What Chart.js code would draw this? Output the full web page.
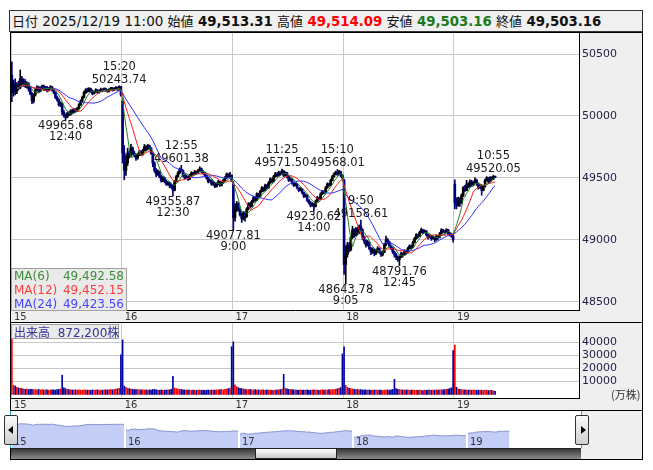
<!DOCTYPE html>
<html>
<head>
<meta charset="utf-8">
<script src="https://cdn.jsdelivr.net/npm/chart.js@4.4.1/dist/chart.umd.min.js"></script>
<style>
  body { margin: 0; background: #fff; }
  #wrap { position: relative; width: 653px; height: 470px; font-family: "DejaVu Sans", "Noto Sans CJK JP", sans-serif; }
  .abs { position: absolute; box-sizing: border-box; }
  #head { left: 9px; top: 10px; width: 634px; height: 22px; border: 1px solid #333; background: #f0f0f0;
          font-size: 13.5px; line-height: 20px; padding-left: 2px; white-space: nowrap; color: #111; }
  #head .j { font-family: "Noto Sans CJK JP"; font-size: 13px; }
  #head b { font-size: 13.3px; }
  #mainBox { left: 10px; top: 32px; width: 633px; height: 291px; border: 1px solid #000; }
  #volBox { left: 10px; top: 322px; width: 633px; height: 89px; border: 1px solid #000; }
  #navBox { left: 10px; top: 410px; width: 633px; height: 50px; border: 1px solid #000; background: #efefef; }
  canvas { position: absolute; left: 0; top: 0; }
  #maLegend { left: 11px; top: 268px; width: 116px; height: 43px; background: rgba(232,232,232,0.92);
              border: 1px solid #a0a0a0; font-size: 12px; line-height: 14px; padding: 0 2px; }
  #maLegend div { display: flex; justify-content: space-between; }
  #volLabel { left: 11px; top: 324px; width: 108px; height: 15px; background: rgba(232,232,232,0.92);
              border: 1px solid #a0a0a0; font-size: 12px; line-height: 13px; padding: 0 2px; color: #34349a; white-space: nowrap; }
  #volLabel .j { font-family: "Noto Sans CJK JP"; }
  #unit { left: 611px; top: 386px; font-size: 11px; color: #333; font-family: "Noto Sans CJK JP"; }
  .btn { width: 14px; height: 30px; top: 415px; border: 1px solid #333; border-radius: 2px;
         background: linear-gradient(#fafafa, #cfcfcf); }
  #btnL { left: 4px; } #btnR { left: 575px; }
  .tri { position: absolute; top: 10px; width: 0; height: 0; border-top: 4px solid transparent; border-bottom: 4px solid transparent; }
  #btnL .tri { left: 3px; border-right: 5px solid #000; }
  #btnR .tri { left: 5px; border-left: 5px solid #000; }
  #track { left: 11px; top: 448px; width: 570px; height: 11px; border-top: 1px solid #222;
           background: linear-gradient(#3a3a3a, #8c8c8c); }
  #thumb { left: 255px; top: 448px; width: 82px; height: 11px; border: 1px solid #222;
           background: linear-gradient(#ffffff, #c9c9c9); }
  .cyan { width: 1px; height: 37px; top: 411px; background: #19b5d8; }
</style>
</head>
<body>
<div id="wrap">
  <div id="head" class="abs"></div>
  <div id="mainBox" class="abs"><canvas id="main" width="631" height="289"></canvas></div>
  <div id="volBox" class="abs"><canvas id="vol" width="631" height="87"></canvas></div>
  <div id="navBox" class="abs"></div>
  <canvas id="nav" width="570" height="37" style="left:11px;top:411px"></canvas>
  <div class="abs cyan" style="left:10px"></div>
  <div class="abs cyan" style="left:581px"></div>
  <div id="track" class="abs"></div>
  <div id="thumb" class="abs"></div>
  <div id="btnL" class="abs btn"><div class="tri"></div></div>
  <div id="btnR" class="abs btn"><div class="tri"></div></div>
  <div id="maLegend" class="abs"></div>
  <div id="volLabel" class="abs"></div>
  <div id="unit" class="abs">(万株)</div>
</div>
<script>
// ---- data (5分足) ----
const days = ['15', '16', '17', '18', '19'];
const headDate = '2025/12/19 11:00';
const headNames = ['始値', '高値', '安値', '終値'];
const headValues = ['49,513.31', '49,514.09', '49,503.16', '49,503.16'];
const headColors = ['#111', '#ff0000', '#1a7a1a', '#111'];
const priceTicks = [48500, 49000, 49500, 50000, 50500];
const volTicks = [10000, 20000, 30000, 40000];

// [open, high, low, close]
const d15 = [
  [50330,50438,50115,50190],[50190,50290,50160,50260],[50260,50300,50170,50200],[50200,50270,50180,50250],[50250,50280,50210,50230],
  [50230,50371,50220,50300],[50300,50320,50240,50260],[50260,50300,50240,50280],[50280,50295,50230,50240],[50240,50275,50225,50260],
  [50260,50270,50200,50220],[50220,50235,50170,50180],[50180,50190,50100,50120],[50120,50180,50105,50170],[50170,50220,50160,50210],
  [50210,50245,50200,50230],[50230,50240,50190,50200],[50200,50235,50195,50225],[50225,50250,50215,50240],[50240,50250,50205,50215],
  [50215,50240,50205,50230],[50230,50240,50195,50205],[50205,50230,50200,50220],[50220,50245,50215,50235],[50235,50240,50200,50210],
  [50210,50220,50180,50190],[50190,50195,50140,50150],[50150,50160,50120,50130],[50130,50140,50080,50090],[50090,50115,50075,50100],
  [50100,50110,50010,50030],[50030,50045,49990,50000],[50000,50015,49966,49990],[49990,50030,49985,50020],[50020,50035,50000,50010],
  [50010,50050,50005,50040],[50040,50055,50020,50030],[50030,50060,50025,50050],[50050,50060,50030,50040],[50040,50070,50035,50060],
  [50060,50100,50055,50090],[50090,50130,50085,50120],[50120,50160,50110,50150],[50150,50200,50145,50190],[50190,50220,50180,50210],
  [50210,50225,50190,50200],[50200,50230,50195,50220],[50220,50225,50190,50200],[50200,50210,50170,50180],[50180,50200,50175,50195],
  [50195,50220,50190,50210],[50210,50215,50185,50190],[50190,50210,50185,50200],[50200,50225,50195,50215],[50215,50220,50195,50205],
  [50205,50228,50200,50220],[50220,50225,50200,50210],[50210,50215,50190,50200],[50200,50222,50195,50215],[50215,50232,50210,50225],
  [50225,50230,50200,50210],[50210,50228,50205,50220],[50220,50238,50215,50230],[50230,50235,50205,50215],[50215,50244,50210,50235],
  [50235,50240,50160,50170]
];
const d16 = [
  [50120,50130,49620,49700],[49700,49760,49484,49560],[49560,49680,49520,49620],[49620,49740,49600,49700],[49700,49720,49660,49680],
  [49680,49770,49670,49740],[49740,49750,49690,49700],[49700,49715,49670,49680],[49680,49690,49640,49660],[49660,49700,49650,49690],
  [49690,49720,49680,49710],[49710,49720,49680,49690],[49690,49730,49685,49720],[49720,49770,49715,49750],[49750,49760,49720,49730],
  [49730,49770,49725,49760],[49760,49765,49730,49740],[49740,49745,49690,49700],[49700,49705,49590,49620],[49620,49630,49545,49560],
  [49560,49575,49510,49530],[49530,49565,49520,49550],[49550,49555,49500,49510],[49510,49520,49465,49480],[49480,49510,49470,49500],
  [49500,49505,49460,49470],[49470,49480,49440,49450],[49450,49470,49440,49460],[49460,49465,49420,49440],[49440,49450,49415,49430],
  [49430,49440,49356,49400],[49400,49480,49395,49470],[49470,49520,49465,49510],[49510,49550,49505,49540],[49540,49580,49535,49570],
  [49570,49601,49550,49560],[49560,49565,49510,49520],[49520,49530,49490,49500],[49500,49520,49495,49510],[49510,49515,49480,49490],
  [49490,49530,49485,49520],[49520,49550,49515,49540],[49540,49545,49520,49530],[49530,49560,49525,49550],[49550,49555,49530,49540],
  [49540,49570,49535,49560],[49560,49590,49555,49575],[49575,49580,49540,49550],[49550,49560,49530,49540],[49540,49545,49510,49520],
  [49520,49525,49490,49500],[49500,49505,49460,49470],[49470,49490,49465,49480],[49480,49485,49440,49450],[49450,49470,49440,49460],
  [49460,49465,49420,49430],[49430,49460,49425,49450],[49450,49480,49445,49470],[49470,49475,49430,49440],[49440,49470,49435,49460],
  [49460,49490,49455,49480],[49480,49510,49475,49500],[49500,49540,49495,49530],[49530,49535,49500,49510],[49510,49545,49505,49520],
  [49520,49525,49470,49480]
];
const d17 = [
  [49450,49470,49078,49180],[49180,49290,49150,49250],[49250,49310,49230,49290],[49290,49300,49230,49240],[49240,49250,49190,49200],
  [49200,49215,49140,49170],[49170,49230,49160,49220],[49220,49225,49150,49190],[49190,49260,49180,49250],[49250,49300,49240,49290],
  [49290,49300,49260,49270],[49270,49320,49265,49310],[49310,49350,49300,49340],[49340,49345,49310,49320],[49320,49380,49315,49370],
  [49370,49375,49340,49350],[49350,49400,49345,49390],[49390,49430,49385,49420],[49420,49425,49390,49400],[49400,49450,49395,49440],
  [49440,49445,49410,49420],[49420,49470,49415,49460],[49460,49500,49455,49490],[49490,49495,49460,49470],[49470,49520,49465,49510],
  [49510,49545,49505,49530],[49530,49540,49510,49520],[49520,49555,49515,49545],[49545,49550,49520,49530],[49530,49572,49525,49555],
  [49555,49560,49510,49520],[49520,49550,49515,49540],[49540,49545,49500,49510],[49510,49515,49470,49480],[49480,49500,49475,49490],
  [49490,49495,49450,49460],[49460,49465,49430,49440],[49440,49460,49435,49450],[49450,49455,49410,49420],[49420,49425,49390,49400],
  [49400,49420,49395,49410],[49410,49415,49370,49380],[49380,49385,49340,49350],[49350,49370,49345,49360],[49360,49365,49310,49320],
  [49320,49325,49290,49300],[49300,49310,49265,49280],[49280,49300,49270,49290],[49290,49295,49231,49270],[49270,49320,49265,49310],
  [49310,49350,49305,49340],[49340,49345,49320,49330],[49330,49380,49325,49370],[49370,49400,49365,49390],[49390,49395,49370,49380],
  [49380,49430,49375,49420],[49420,49460,49415,49450],[49450,49455,49430,49440],[49440,49490,49435,49480],[49480,49520,49475,49510],
  [49510,49540,49505,49530],[49530,49555,49525,49545],[49545,49568,49520,49530],[49530,49560,49525,49550],[49550,49555,49510,49520],
  [49520,49530,49490,49500]
];
const d18 = [
  [49480,49490,48720,48800],[48800,48950,48644,48880],[48880,48980,48860,48960],[48960,48975,48900,48920],[48920,49030,48910,49020],
  [49020,49110,49010,49080],[49080,49090,49020,49040],[49040,49100,49030,49090],[49090,49100,49040,49060],[49060,49120,49050,49110],
  [49110,49159,49070,49080],[49080,49090,49000,49020],[49020,49030,48970,48990],[48990,49000,48940,48960],[48960,48995,48950,48980],
  [48980,48985,48920,48930],[48930,48940,48880,48900],[48900,48935,48890,48920],[48920,48925,48870,48890],[48890,48920,48880,48910],
  [48910,48945,48900,48930],[48930,48935,48890,48900],[48900,48910,48865,48880],[48880,48910,48870,48900],[48900,48970,48895,48960],
  [48960,49030,48950,49000],[49000,49010,48970,48980],[48980,48990,48940,48950],[48950,48960,48920,48930],[48930,48940,48890,48900],
  [48900,48910,48860,48880],[48880,48890,48840,48860],[48860,48870,48825,48840],[48840,48870,48792,48860],[48860,48900,48855,48890],
  [48890,48895,48860,48880],[48880,48920,48875,48910],[48910,48915,48885,48900],[48900,48940,48895,48930],[48930,48960,48925,48950],
  [48950,48955,48925,48940],[48940,48990,48935,48980],[48980,49020,48975,49010],[49010,49050,49005,49040],[49040,49045,49015,49030],
  [49030,49070,49025,49060],[49060,49095,49055,49080],[49080,49085,49050,49060],[49060,49080,49055,49070],[49070,49075,49030,49040],
  [49040,49045,49005,49020],[49020,49040,49015,49030],[49030,49035,48995,49010],[49010,49030,49005,49020],[49020,49025,48985,49000],
  [49000,49040,48995,49030],[49030,49035,49005,49020],[49020,49060,49015,49050],[49050,49090,49045,49080],[49080,49085,49060,49070],
  [49070,49075,49045,49060],[49060,49090,49055,49080],[49080,49085,49040,49050],[49050,49060,49030,49040],[49040,49050,49020,49030],
  [49030,49040,48980,49000]
];
const d19 = [
  [49450,49484,49250,49300],[49300,49340,49250,49280],[49280,49345,49270,49330],[49330,49340,49270,49300],[49300,49370,49290,49360],
  [49360,49430,49350,49420],[49420,49440,49390,49400],[49400,49480,49395,49450],[49450,49460,49420,49430],[49430,49485,49425,49470],
  [49470,49480,49430,49440],[49440,49470,49435,49460],[49460,49500,49455,49480],[49480,49490,49440,49450],[49450,49460,49410,49420],
  [49420,49450,49415,49440],[49440,49445,49360,49400],[49400,49440,49395,49430],[49430,49490,49425,49480],[49480,49510,49475,49500],
  [49500,49505,49460,49470],[49470,49510,49465,49500],[49500,49510,49480,49490],[49490,49520.05,49485,49513.31],
  [49513.31,49514.09,49503.16,49503.16]
];

// 出来高 (株)
const v15 = [43000,7000,6500,5500,5000,4800,4500,4200,4000,4200,3800,4000,3900,3700,3800,3600,3900,3500,3700,3400,
  3600,3500,3300,3400,3600,3500,3400,3700,3900,4200,14800,5200,4500,4000,3800,3600,3500,3400,3600,3300,
  3500,3400,3200,3600,3500,3300,3400,3200,3500,3300,3400,3600,3200,3400,3300,3500,3600,3400,3700,3800,
  3600,3900,4100,4300,4800,30500];
const v16 = [42000,6500,5500,4800,4500,4200,4000,3800,3700,3900,3600,3500,3700,3400,3500,3300,3600,3400,3800,3900,
  3500,3400,3300,3500,3200,3400,3300,3500,3600,4000,14000,5000,4600,4200,4000,3800,3600,3500,3400,3300,
  3500,3200,3400,3300,3100,3300,3500,3200,3400,3100,3300,3400,3200,3500,3300,3400,3600,3500,3700,3800,
  3600,3900,4200,4500,5000,36800];
const v17 = [40500,7500,6000,5200,4800,4500,4300,4000,3800,3700,3900,3600,3500,3700,3400,3600,3300,3500,3400,3200,
  3500,3300,3400,3200,3300,3500,3400,3600,3800,4200,15500,4800,4300,4000,3800,3700,3500,3600,3400,3300,
  3500,3200,3400,3300,3500,3200,3300,3400,3600,3300,3500,3200,3400,3600,3300,3500,3400,3700,3600,3900,
  3800,4100,4400,4800,5300,31200];
const v18 = [36600,7000,5500,4800,4500,4200,4000,3800,3900,3600,3700,3500,3400,3600,3300,3500,3200,3400,3300,3500,
  3200,3400,3300,3100,3400,3300,3500,3200,3600,3900,11700,4500,4000,3800,3600,3500,3400,3300,3500,3200,
  3400,3300,3100,3300,3200,3400,3300,3100,3400,3200,3300,3500,3200,3400,3300,3600,3400,3500,3700,3600,
  3800,4000,4200,4600,5200,33700];
const v19 = [38000,5600,4200,4000,3800,3600,3500,3400,3300,3500,3200,3400,3300,3100,3400,3200,3300,3100,3400,3200,
  3000,3200,3100,2900,2500];

const volTotal = '872,200株';
const maPeriods = [6, 12, 24];
const maColors = ['#1f7f1f', '#ff1a1a', '#2b2bff'];
const maLegendColors = ['#3c8c3c', '#ff3c3c', '#4646ff'];
const maLegendValues = ['49,492.58', '49,452.15', '49,423.56'];

// 高値・安値の注記
const marks = [
  { day: 0, t: '15:20', p: 50243.74, hi: true },
  { day: 0, t: '12:40', p: 49965.68, hi: false },
  { day: 1, t: '12:55', p: 49601.38, hi: true },
  { day: 1, t: '12:30', p: 49355.87, hi: false },
  { day: 2, t: '9:00', p: 49077.81, hi: false },
  { day: 2, t: '11:25', p: 49571.50, hi: true },
  { day: 2, t: '14:00', p: 49230.62, hi: false },
  { day: 2, t: '15:10', p: 49568.01, hi: true },
  { day: 3, t: '9:05', p: 48643.78, hi: false },
  { day: 3, t: '9:50', p: 49158.61, hi: true },
  { day: 3, t: '12:45', p: 48791.76, hi: false },
  { day: 4, t: '10:55', p: 49520.05, hi: true }
];

// ---- build ----
const PER_DAY = 66;
const bars = [d15, d16, d17, d18, d19].flat();
const vols = [v15, v16, v17, v18, v19].flat();
const closes = bars.map(b => b[3]);
const BLACK = '#000000', NAVY = '#00007a';

function barIndex(day, t) {
  const [h, m] = t.split(':').map(Number);
  const min = h * 60 + m;
  return day * PER_DAY + (min < 750 ? (min - 540) / 5 : 30 + (min - 750) / 5);
}

function movingAvg(n) {
  return closes.map((c, i) => {
    const s = closes.slice(Math.max(0, i - n + 1), i + 1);
    return { x: i, y: i < 3 ? null : s.reduce((a, b) => a + b, 0) / s.length };
  });
}

// header
const head = document.getElementById('head');
let html = '<span class="j">日付</span> ' + headDate;
headNames.forEach((n, k) => {
  html += ' <span class="j">' + n + '</span> <b style="color:' + headColors[k] + '">' + headValues[k] + '</b>';
});
head.innerHTML = html;

document.getElementById('maLegend').innerHTML = maPeriods.map((p, k) =>
  '<div style="color:' + maLegendColors[k] + '"><span>MA(' + p + ')</span><span>' + maLegendValues[k] + '</span></div>').join('');
document.getElementById('volLabel').innerHTML = '<span class="j">出来高</span>&nbsp; ' + volTotal;

const FONT = 'DejaVu Sans';
const dayTicks = s => { s.ticks = days.map((d, k) => ({ value: k * PER_DAY - 0.5 })); };
const noPadY = (w) => s => { s.width = w; s.paddingTop = 0; s.paddingBottom = 0; };

const panelBg = {
  id: 'panelBg',
  beforeDraw(c) {
    const { ctx, chartArea: a, width, height } = c;
    ctx.save();
    ctx.fillStyle = '#efefef';
    ctx.fillRect(0, 0, width, height);
    ctx.fillStyle = '#fff';
    ctx.fillRect(a.left, a.top, a.right - a.left, a.bottom - a.top);
    ctx.restore();
  }
};

const markPlugin = {
  id: 'marks',
  afterDatasetsDraw(c) {
    const { ctx, scales: { x, y } } = c;
    ctx.save();
    ctx.font = '11.5px "' + FONT + '"';
    ctx.fillStyle = '#1a1a1a';
    ctx.textAlign = 'center';
    ctx.textBaseline = 'alphabetic';
    marks.forEach(m => {
      const px = x.getPixelForValue(barIndex(m.day, m.t));
      const py = y.getPixelForValue(m.p);
      if (m.hi) {
        ctx.fillText(m.p.toFixed(2), px, py - 3);
        ctx.fillText(m.t, px, py - 16);
      } else {
        ctx.fillText(m.p.toFixed(2), px, py + 9);
        ctx.fillText(m.t, px, py + 20);
      }
    });
    ctx.restore();
  }
};

const xCommon = () => ({
  type: 'linear', min: -0.5, max: 338, offset: false,
  afterBuildTicks: dayTicks,
  afterFit: s => { s.height = 12; s.paddingLeft = 0; s.paddingRight = 0; },
  grid: { color: '#c8c8c8', drawTicks: false, offset: false },
  border: { display: true, color: '#000' },
  ticks: { callback: (v, i) => days[i], align: 'start', labelOffset: 3, padding: 1,
           color: '#333', font: { family: FONT, size: 10 }, maxRotation: 0, autoSkip: false }
});

// main candle chart
new Chart(document.getElementById('main'), {
  type: 'bar',
  data: {
    datasets: [
      ...maPeriods.map((p, k) => ({
        type: 'line', data: movingAvg(p), borderColor: maColors[k], borderWidth: 1,
        pointRadius: 0, tension: 0, order: 0
      })),
      { data: bars.map((b, i) => ({ x: i, y: [b[2], b[1]] })), barThickness: 1, grouped: false, order: 2,
        backgroundColor: bars.map(b => b[3] >= b[0] ? BLACK : NAVY) },
      { data: bars.map((b, i) => ({ x: i, y: [b[0], b[3]] })), barThickness: 2, grouped: false, order: 1,
        backgroundColor: bars.map(b => b[3] >= b[0] ? BLACK : NAVY) }
    ]
  },
  options: {
    responsive: false, animation: false, events: [],
    layout: { padding: 0 },
    plugins: { legend: { display: false }, tooltip: { enabled: false } },
    scales: {
      x: xCommon(),
      y: {
        position: 'right', min: 48433, max: 50670,
        afterBuildTicks: s => { s.ticks = priceTicks.map(v => ({ value: v })); },
        afterFit: noPadY(63),
        grid: { color: '#c8c8c8', drawTicks: false },
        border: { display: true, color: '#000' },
        ticks: { padding: 3, color: '#1e1e46', font: { family: FONT, size: 11 }, callback: v => String(v) }
      }
    }
  },
  plugins: [panelBg, markPlugin]
});

// volume chart
new Chart(document.getElementById('vol'), {
  type: 'bar',
  data: {
    datasets: [{
      data: vols.map((v, i) => ({ x: i, y: v })), barThickness: 1, grouped: false,
      backgroundColor: vols.map((v, i) => (i === 0 || closes[i] >= closes[i - 1]) ? '#ff0000' : '#0000a0')
    }]
  },
  options: {
    responsive: false, animation: false, events: [],
    layout: { padding: 0 },
    plugins: { legend: { display: false }, tooltip: { enabled: false } },
    scales: {
      x: xCommon(),
      y: {
        position: 'right', min: -2700, max: 55000,
        afterBuildTicks: s => { s.ticks = volTicks.map(v => ({ value: v })); },
        afterFit: noPadY(63),
        grid: { color: '#c8c8c8', drawTicks: false },
        border: { display: true, color: '#000' },
        ticks: { padding: 3, color: '#1e1e46', font: { family: FONT, size: 11 }, callback: v => String(v) }
      }
    }
  },
  plugins: [panelBg]
});

// navigator
const navLabels = {
  id: 'navLabels',
  afterDraw(c) {
    const { ctx, scales: { x }, chartArea: a } = c;
    ctx.save();
    ctx.font = '10px "' + FONT + '"';
    ctx.fillStyle = '#333';
    days.forEach((d, k) => ctx.fillText(d, x.getPixelForValue(k * PER_DAY - 0.5) + 3, a.bottom - 3));
    ctx.restore();
  }
};
new Chart(document.getElementById('nav'), {
  type: 'line',
  data: {
    datasets: [{
      data: closes.map((c, i) => ({ x: i, y: c })), borderColor: '#8790cc', borderWidth: 1,
      backgroundColor: '#c3cdf6', fill: 'start', pointRadius: 0, tension: 0
    }]
  },
  options: {
    responsive: false, animation: false, events: [],
    layout: { padding: 0 },
    plugins: { legend: { display: false }, tooltip: { enabled: false } },
    scales: {
      x: { type: 'linear', min: -0.5, max: 329.5, afterBuildTicks: dayTicks,
           grid: { color: '#ffffff', lineWidth: 2, z: 1, drawTicks: false }, border: { display: false },
           ticks: { display: false } },
      y: { display: false, min: 47735, max: 51620 }
    }
  },
  plugins: [{ id: 'navBg', beforeDraw(c) { c.ctx.fillStyle = '#fff'; c.ctx.fillRect(0, 0, c.width, c.height); } }, navLabels]
});
</script>
</body>
</html>
